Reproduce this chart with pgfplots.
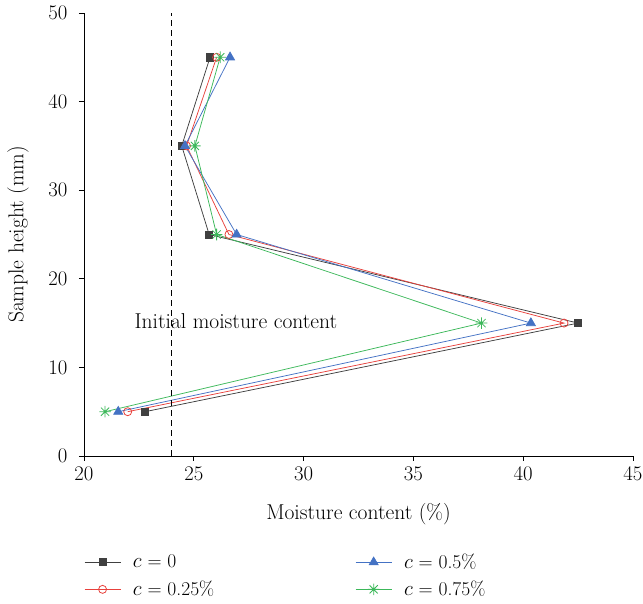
\documentclass[border=0pt]{standalone}
\usepackage{pgfplots}
\pgfplotsset{compat=1.18}
\definecolor{cblack}{HTML}{404040}
\definecolor{cred}{HTML}{E8413C}
\definecolor{cblue}{HTML}{4472C4}
\definecolor{cgreen}{HTML}{3CB85A}
\newcommand{\fs}{\fontsize{19.5}{22}\selectfont}
\newcommand{\fl}{\fontsize{21.5}{24}\selectfont}
\pgfdeclareplotmark{star8}{%
  \pgfpathmoveto{\pgfqpoint{-\pgfplotmarksize}{0pt}}\pgfpathlineto{\pgfqpoint{\pgfplotmarksize}{0pt}}%
  \pgfpathmoveto{\pgfqpoint{0pt}{-\pgfplotmarksize}}\pgfpathlineto{\pgfqpoint{0pt}{\pgfplotmarksize}}%
  \pgfpathmoveto{\pgfqpoint{-0.707\pgfplotmarksize}{-0.707\pgfplotmarksize}}\pgfpathlineto{\pgfqpoint{0.707\pgfplotmarksize}{0.707\pgfplotmarksize}}%
  \pgfpathmoveto{\pgfqpoint{-0.707\pgfplotmarksize}{0.707\pgfplotmarksize}}\pgfpathlineto{\pgfqpoint{0.707\pgfplotmarksize}{-0.707\pgfplotmarksize}}%
  \pgfusepathqstroke}
\begin{document}
\begin{tikzpicture}
\begin{axis}[
  scale only axis,
  width=549pt, height=443pt,
  xmin=20, xmax=45, ymin=0, ymax=50,
  axis lines=left,
  axis line style={-, line width=0.9pt},
  xtick={20,25,...,45}, ytick={0,10,...,50},
  tick align=outside,
  major tick length=5pt,
  tick style={line width=0.9pt, black},
  ticklabel style={font=\fs},
  xticklabel style={yshift=-3pt},
  yticklabel style={xshift=-8pt},
  label style={font=\fl},
  xlabel={Moisture content (\%)},
  ylabel={Sample height (mm)},
  xlabel style={at={(rel axis cs:0.5,0)}, anchor=center, yshift=-58pt},
  ylabel style={at={(rel axis cs:0,0.5)}, anchor=center, yshift=66pt},
  legend columns=2,
  transpose legend,
  legend style={at={(rel axis cs:0,0)}, anchor=north west, yshift=-96pt, draw=none, fill=none,
    font=\fs, row sep=7pt, inner sep=0pt,
    /tikz/every odd column/.append style={column sep=10pt},
    /tikz/every even column/.append style={column sep=139pt}},
  legend cell align=left,
  legend image code/.code={
    \draw[mark repeat=2,mark phase=2,#1] plot coordinates {(0pt,0pt) (18pt,0pt) (36pt,0pt)};
  },
  clip=false,
]
\addplot[cblack, line width=0.75pt, mark=square*, mark size=3.6pt, mark options={fill=cblack}] coordinates {
(25.74,45) (24.45,35) (25.7,25) (42.5,15) (22.78,5)};
\addlegendentry{$c$ = 0}
\addplot[cred, line width=0.75pt, mark=o, mark size=4pt, mark options={line width=0.8pt}] coordinates {
(26.04,45) (24.67,35) (26.6,25) (41.86,15) (21.99,5)};
\addlegendentry{$c$ = 0.25\%}
\addplot[cblue, line width=0.75pt, mark=triangle*, mark size=5.2pt, mark options={fill=cblue}] coordinates {
(26.65,45) (24.6,35) (26.95,25) (40.35,15) (21.56,5)};
\addlegendentry{$c$ = 0.5\%}
\addplot[cgreen, line width=0.75pt, mark=star8, mark size=5.8pt, mark options={line width=0.8pt}] coordinates {
(26.2,45) (25.05,35) (26.04,25) (38.1,15) (20.96,5)};
\addlegendentry{$c$ = 0.75\%}
\addplot[black, line width=0.9pt, dash pattern=on 6pt off 4pt, forget plot] coordinates {(24,0) (24,50)};
\node[font=\fl] at (axis cs:26.92,15.2) {Initial moisture content};
\coordinate (ll) at (rel axis cs:0,0);
\coordinate (ur) at (rel axis cs:1,1);
\end{axis}
\pgfresetboundingbox
\path[use as bounding box] ([xshift=-84pt,yshift=-148pt]ll) rectangle ([xshift=10pt,yshift=13pt]ur);
\end{tikzpicture}
\end{document}
